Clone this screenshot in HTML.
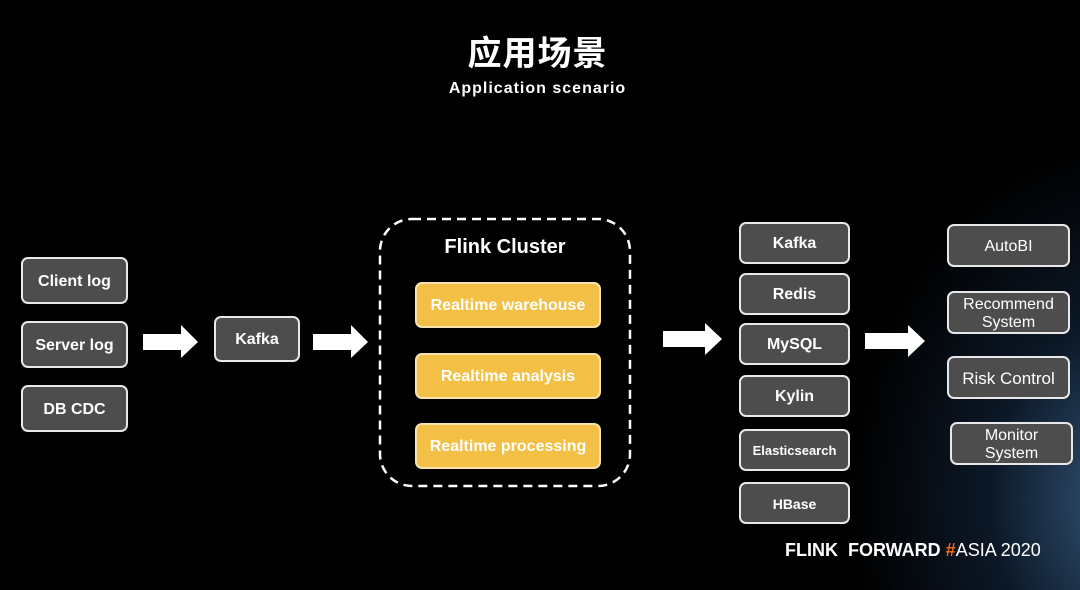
<!DOCTYPE html>
<html><head><meta charset="utf-8"><style>
body{margin:0;width:1080px;height:590px;background:#000;overflow:hidden;position:relative;font-family:"Liberation Sans","Noto Sans CJK SC",sans-serif;color:#fff}
.glow{position:absolute;left:0;top:0;width:1080px;height:590px;background:radial-gradient(ellipse 280px 360px at 1130px 500px,rgba(90,150,210,.6),rgba(40,80,130,.3) 50%,rgba(0,0,0,0) 100%)}
.b{position:absolute;box-sizing:border-box;background:#4d4d4d;border:2px solid #e8e8e8;border-radius:7px;display:flex;align-items:center;justify-content:center;text-align:center;font-weight:bold;font-size:16px;line-height:18px;padding-top:2px}
.n{font-weight:normal;font-size:16px}
.y{position:absolute;box-sizing:border-box;background:#f4bf45;border:2px solid #f7e3b0;border-radius:7px;display:flex;align-items:center;justify-content:center;font-weight:bold;font-size:16px;left:415px;width:186px;height:46px;padding-top:2px}
.t{position:absolute;text-align:center;font-weight:bold}
</style></head><body>
<div class="glow"></div>
<div class="t" style="left:0;width:1075px;top:32px;font-size:34px;line-height:44px;letter-spacing:1px">应用场景</div>
<div class="t" style="left:0;width:1075px;top:80px;font-size:16px;letter-spacing:1px">Application scenario</div>

<div class="b" style="left:21px;top:257px;width:107px;height:47px">Client log</div>
<div class="b" style="left:21px;top:321px;width:107px;height:47px">Server log</div>
<div class="b" style="left:21px;top:385px;width:107px;height:47px">DB CDC</div>
<div class="b" style="left:214px;top:316px;width:86px;height:46px">Kafka</div>

<svg style="position:absolute;left:0;top:0" width="1080" height="590">
<g fill="#fff">
<polygon points="143,334 181,334 181,325 198,342 181,358 181,350 143,350"/>
<polygon points="313,334 351,334 351,325 368,342 351,358 351,350 313,350"/>
<polygon points="663,331 705,331 705,323 722,339 705,355 705,347 663,347"/>
<polygon points="865,333 908,333 908,325 925,341 908,357 908,349 865,349"/>
</g>
<rect x="380" y="219" width="250" height="267" rx="32" fill="none" stroke="#fff" stroke-width="2.5" stroke-dasharray="9,6"/>
</svg>
<div class="t" style="left:380px;width:250px;top:236px;font-size:20px">Flink Cluster</div>
<div class="y" style="top:282px">Realtime warehouse</div>
<div class="y" style="top:353px">Realtime analysis</div>
<div class="y" style="top:423px">Realtime processing</div>

<div class="b" style="left:739px;top:222px;width:111px;height:42px">Kafka</div>
<div class="b" style="left:739px;top:273px;width:111px;height:42px">Redis</div>
<div class="b" style="left:739px;top:323px;width:111px;height:42px">MySQL</div>
<div class="b" style="left:739px;top:375px;width:111px;height:42px">Kylin</div>
<div class="b" style="left:739px;top:429px;width:111px;height:42px;font-size:13px">Elasticsearch</div>
<div class="b" style="left:739px;top:482px;width:111px;height:42px;font-size:14px">HBase</div>

<div class="b n" style="left:947px;top:224px;width:123px;height:43px">AutoBI</div>
<div class="b n" style="left:947px;top:291px;width:123px;height:43px">Recommend<br>System</div>
<div class="b n" style="left:947px;top:356px;width:123px;height:43px;font-size:17px">Risk Control</div>
<div class="b n" style="left:950px;top:422px;width:123px;height:43px">Monitor<br>System</div>

<div style="position:absolute;left:785px;top:540px;font-size:18px;white-space:nowrap"><b>FLINK&nbsp;&nbsp;FORWARD</b> <b style="color:#f26b1d">#</b>ASIA 2020</div>
</body></html>
